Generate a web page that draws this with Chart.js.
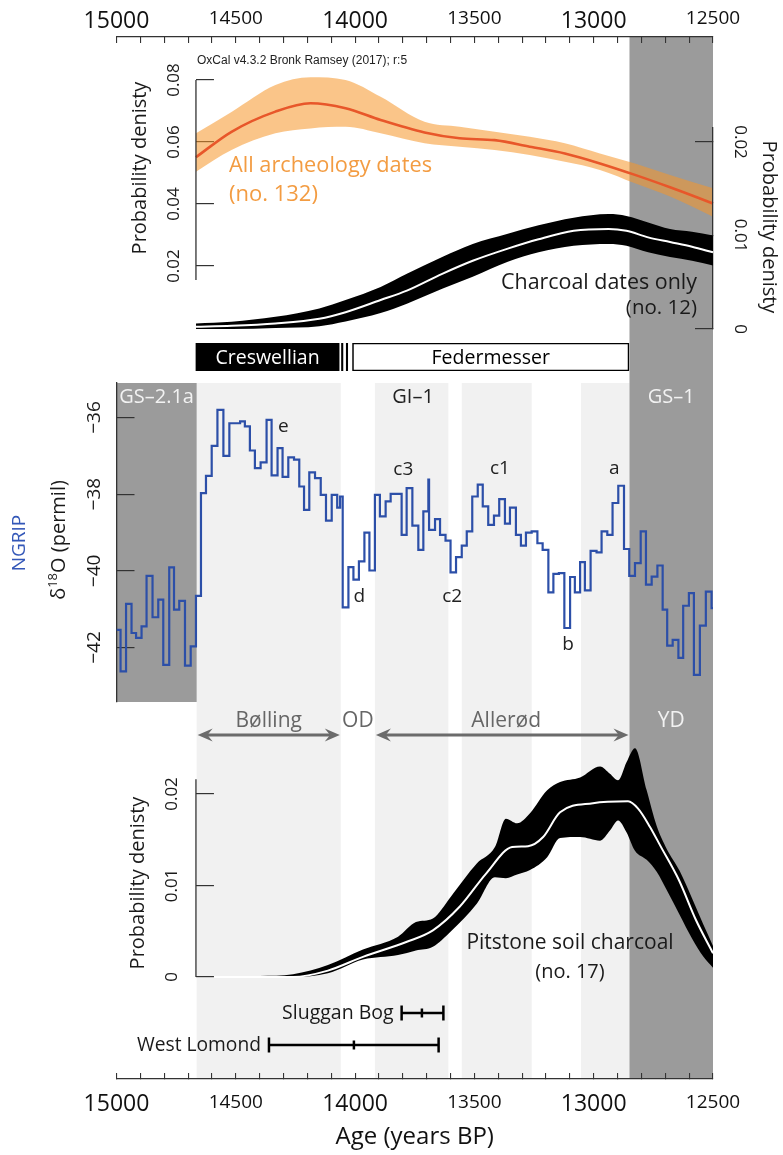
<!DOCTYPE html>
<html lang="en"><head><meta charset="utf-8"><title>Pitstone charcoal chronology</title>
<script src="https://cdn.jsdelivr.net/npm/chart.js@4.4.1/dist/chart.umd.min.js"></script>
<style>
html,body{margin:0;padding:0;background:#fff;width:783px;height:1155px;overflow:hidden}
#wrap{position:relative;width:783px;height:1155px}
#wrap canvas{position:absolute;left:0;top:0}
</style></head><body><div id="wrap">
<canvas id="cFrame" width="783" height="1155"></canvas>
<canvas id="cArch" width="783" height="1155"></canvas>
<canvas id="cChar" width="783" height="1155"></canvas>
<canvas id="cNgrip" width="783" height="1155"></canvas>
<canvas id="cPit" width="783" height="1155"></canvas>
<canvas id="cCult" width="783" height="1155"></canvas>
<canvas id="cSites" width="783" height="1155"></canvas>
</div>
<script>
// ================= DATA =================
const AXIS_MIN = 12500, AXIS_MAX = 15000;
const xTickYears = [15000,14900,14800,14700,14600,14500,14400,14300,14200,14100,14000,13900,13800,13700,13600,13500,13400,13300,13200,13100,13000,12900,12800,12700,12600,12500];
const xLabelYears = [15000,14500,14000,13500,13000,12500];
const PANEL_START = 14667;

// Greenland stages / climate periods (years BP)
const stageNames = ['GS–2.1a','GI–1','GS–1'];
const stageStart = [15000,14664,12850];
const stageEnd   = [14664,12850,12500];
const stadialStart = [15000,12850];
const stadialEnd   = [14664,12500];
const warmStart = [14664,13917,13553,13053];
const warmEnd   = [14060,13609,13260,12850];
const periodNames = ['Bølling','OD','Allerød','YD'];
const periodStart = [14664,14060,13917,12850];
const periodEnd   = [14060,13917,12850,12500];

// All archaeology dates (left axis)
const archTicks = [0.02,0.04,0.06,0.08];
const archYears = [14667,14518,14334,14187,14040,13893,13709,13562,13415,13268,13121,12974,12827,12680,12500];
const archMean  = [0.0551,0.0633,0.0698,0.0725,0.0709,0.0671,0.0631,0.0612,0.0606,0.0585,0.0563,0.0531,0.0494,0.0454,0.0402];
const archUpper = [0.0628,0.0697,0.0784,0.0809,0.0800,0.0746,0.0665,0.0649,0.0633,0.0617,0.0596,0.0563,0.0531,0.0494,0.0451];
const archLower = [0.0504,0.0574,0.0628,0.0644,0.0649,0.0628,0.0596,0.0585,0.0574,0.0558,0.0536,0.0510,0.0467,0.0424,0.0359];

// Charcoal dates only (right axis)
const charTicks = [0,0.01,0.02];
const charYears = [14667,14518,14334,14150,14040,13893,13783,13635,13507,13360,13231,13084,12937,12863,12772,12680,12588,12500];
const charMean  = [0.00025,0.00035,0.0006,0.0011,0.0018,0.0031,0.0041,0.0059,0.0073,0.0086,0.0096,0.0105,0.0107,0.0105,0.0098,0.0093,0.0088,0.0082];
const charUpper = [0.0006,0.00078,0.0013,0.0022,0.0031,0.0045,0.0059,0.0077,0.0091,0.0102,0.0111,0.0119,0.0123,0.0121,0.0114,0.0107,0.0104,0.0100];
const charLower = [0,0,0.0001,0.0003,0.0008,0.0017,0.0027,0.0043,0.0056,0.0072,0.0082,0.0089,0.0091,0.0089,0.0082,0.0077,0.0073,0.0068];

// Culture bar
const cultureNames = ['Creswellian','','','Federmesser'];
const cultureStart = [14667,14057,14037,14011];
const cultureEnd   = [14067,14051,14031,12852];

// NGRIP d18O (step record)
const ngripTicks = [-42,-40,-38,-36];
const ngripYears = [15000,14983,14960,14937,14918,14895,14874,14849,14825,14804,14779,14759,14737,14713,14689,14667,14646,14625,14601,14577,14552,14527,14482,14462,14441,14420,14396,14371,14350,14325,14304,14280,14256,14234,14214,14192,14168,14144,14122,14098,14075,14063,14052,14028,14007,13984,13961,13940,13917,13896,13872,13851,13805,13784,13760,13735,13714,13693,13690,13665,13644,13621,13600,13577,13553,13532,13509,13486,13465,13442,13418,13396,13372,13351,13326,13305,13284,13260,13236,13214,13190,13169,13146,13123,13099,13079,13057,13037,13013,12988,12967,12943,12921,12897,12873,12851,12827,12803,12781,12757,12733,12711,12692,12669,12645,12625,12601,12580,12555,12530,12506,12500];
const ngripD18O  = [-41.54,-42.62,-40.86,-41.62,-41.75,-41.45,-40.13,-41.21,-40.75,-42.45,-39.91,-41.01,-40.78,-42.47,-41.97,-40.65,-37.97,-37.52,-36.74,-35.80,-37.00,-36.15,-36.10,-36.23,-36.86,-37.32,-37.17,-36.06,-37.51,-36.80,-37.55,-37.04,-37.10,-37.80,-38.41,-37.43,-37.58,-38.02,-38.69,-38.02,-38.35,-38.06,-40.95,-39.90,-40.23,-39.75,-39.00,-39.99,-38.02,-38.58,-38.19,-37.99,-39.06,-37.84,-38.82,-39.45,-38.45,-37.62,-38.93,-38.65,-39.06,-39.21,-40.04,-39.64,-39.34,-38.97,-38.06,-37.75,-38.32,-38.80,-38.56,-38.13,-38.77,-38.35,-39.06,-39.34,-39.00,-38.97,-39.28,-39.45,-40.56,-40.08,-40.06,-41.49,-40.16,-40.56,-39.77,-40.51,-39.48,-39.52,-38.97,-39.06,-38.23,-37.78,-39.43,-40.13,-39.80,-38.97,-40.36,-40.15,-39.86,-41.01,-41.95,-41.80,-42.27,-40.91,-40.58,-42.71,-41.43,-40.54,-40.97,-40.97];
const eventNames  = ['e','d','c3','c2','c1','b','a'];
const eventYears  = [14301,13982,13798,13593,13393,13107,12914];
const eventLevels = [-36.23,-40.67,-37.35,-40.67,-37.32,-41.93,-37.32];

// Pitstone soil charcoal
const pitTicks = [0,0.01,0.02];
const pitYears = [14591,14400,14260,14114,13967,13820,13745,13674,13598,13490,13414,13368,13321,13267,13195,13141,13057,12973,12932,12898,12862,12827,12778,12736,12694,12640,12588,12540,12500];
const pitUpper = [0,0.0001,0.0003,0.0013,0.003,0.0044,0.006,0.0064,0.0088,0.0124,0.0142,0.0173,0.0168,0.0179,0.0204,0.0213,0.0218,0.023,0.0222,0.0215,0.0235,0.025,0.0204,0.0165,0.0140,0.0116,0.0086,0.0057,0.0034];
const pitLower = [0,0,0,0.0004,0.0019,0.0024,0.0029,0.0033,0.005,0.008,0.0109,0.0108,0.0112,0.0117,0.0131,0.0152,0.0153,0.0149,0.016,0.0171,0.0158,0.0138,0.0128,0.0115,0.0095,0.0068,0.0042,0.0022,0.0010];
const pitMeanYears = [14591,14260,14114,13967,13783,13674,13561,13451,13342,13275,13212,13141,13003,12856,12814,12764,12720,12643,12571,12500];
const pitMean      = [0,0,0.0007,0.0022,0.00385,0.0051,0.0077,0.0113,0.0142,0.0143,0.0153,0.018,0.019,0.0192,0.0184,0.0164,0.0143,0.0106,0.0062,0.0026];

// Tephra / site ages
const siteNames = ['Sluggan Bog','West Lomond'];
const siteOld   = [13805,14361];
const siteMid   = [13720,14005];
const siteYoung = [13630,13650];

// ================= LAYOUT & STYLE =================
const W = 783, H = 1155;
const PX_LEFT = 116.5, PX_RIGHT = 713;
const FRAME_TOP = 37, FRAME_BOTTOM = 1079;
const NGRIP_TOP = 383, NGRIP_BOTTOM = 702;
const LIGHT = '#f1f1f1', DARK = '#9b9b9b', INK = '#1a1a1a', AXIS = '#333';
const FONT = '"Open Sans", "Noto Sans", "DejaVu Sans", sans-serif';
const pxPerYear = (PX_RIGHT - PX_LEFT) / (AXIS_MAX - AXIS_MIN);
const yearToPx = yr => PX_LEFT + (AXIS_MAX - yr) * pxPerYear;
const fmtMinus = v => String(v).replace('-', '\u2212');

function drawText(ctx, s, x, y, o = {}) {
  ctx.save();
  ctx.font = `${o.weight || 'normal'} ${o.size || 18}px ${o.family || FONT}`;
  ctx.fillStyle = o.color || INK;
  ctx.textAlign = o.align || 'center';
  ctx.textBaseline = o.baseline || 'middle';
  ctx.translate(x, y);
  if (o.rot) ctx.rotate(o.rot * Math.PI / 180);
  if (o.maxWidth) ctx.fillText(s, 0, 0, o.maxWidth); else ctx.fillText(s, 0, 0);
  ctx.restore();
}
function tickLabels(ctx, scale, x, rot, size, fmt) {
  scale.ticks.forEach(t => drawText(ctx, fmt(t.value), x, scale.getPixelForValue(t.value), {rot, size}));
}
function axisLine(ctx, x, y1, y2) {
  ctx.save(); ctx.strokeStyle = AXIS; ctx.lineWidth = 1.3;
  ctx.beginPath(); ctx.moveTo(x, y1); ctx.lineTo(x, y2); ctx.stroke(); ctx.restore();
}
function arrow(ctx, x1, x2, y) {
  const L = 15, hw = 6.5;
  ctx.save(); ctx.strokeStyle = '#6b6b6b'; ctx.fillStyle = '#6b6b6b'; ctx.lineWidth = 3;
  ctx.beginPath(); ctx.moveTo(x1 + 8, y); ctx.lineTo(x2 - 8, y); ctx.stroke();
  ctx.beginPath(); ctx.moveTo(x1, y); ctx.lineTo(x1 + L, y - hw); ctx.lineTo(x1 + L * 0.65, y); ctx.lineTo(x1 + L, y + hw); ctx.closePath(); ctx.fill();
  ctx.beginPath(); ctx.moveTo(x2, y); ctx.lineTo(x2 - L, y - hw); ctx.lineTo(x2 - L * 0.65, y); ctx.lineTo(x2 - L, y + hw); ctx.closePath(); ctx.fill();
  ctx.restore();
}

const common = {
  responsive: false, animation: false, devicePixelRatio: 1, events: [],
  plugins: { legend: { display: false }, tooltip: { enabled: false } }
};
function hiddenX(xmax) { return { type: 'linear', min: AXIS_MIN, max: xmax, reverse: true, display: false }; }
function yAxis(position, min, max, ticks, border) {
  return {
    type: 'linear', position, min, max,
    afterBuildTicks: sc => { sc.ticks = ticks.map(v => ({ value: v })); },
    afterFit: sc => { sc.width = 0; },
    ticks: { display: false },
    grid: { drawOnChartArea: false, drawTicks: true, tickLength: -18, color: AXIS, lineWidth: 1.2 },
    border: { display: border, color: AXIS, width: 1.3 }
  };
}
function pad(left, top, bottom) { return { left, right: W - PX_RIGHT, top, bottom: H - bottom }; }
function pts(xs, ys) { return xs.map((x, i) => ({ x, y: ys[i] })); }
function timeAxis(position, height, padding, crossAlign) {
  return {
    type: 'linear', position, min: AXIS_MIN, max: AXIS_MAX, reverse: true,
    afterBuildTicks: sc => { sc.ticks = xTickYears.map(v => ({ value: v })); },
    afterFit: sc => { sc.height = height; },
    ticks: {
      autoSkip: false, maxRotation: 0, minRotation: 0, padding, crossAlign, color: '#111',
      callback: v => xLabelYears.includes(v) ? String(v) : '',
      font: c => ({ family: FONT, size: (c.tick && c.tick.value % 1000 === 0) ? 23 : 19 })
    },
    grid: { drawOnChartArea: false, drawTicks: true, tickLength: -6, color: AXIS, lineWidth: 1.1 },
    border: { display: true, color: AXIS, width: 1.3 }
  };
}

// ================= FRAME (axes, climate bands, labels) =================
new Chart(document.getElementById('cFrame'), {
  type: 'line',
  data: { datasets: [] },
  options: Object.assign({}, common, {
    layout: { padding: { left: PX_LEFT, right: W - PX_RIGHT, top: 0, bottom: 0 } },
    scales: {
      x: timeAxis('top', FRAME_TOP, 8, 'far'),
      x2: Object.assign(timeAxis('bottom', H - FRAME_BOTTOM, 18, 'near'), {
        title: { display: true, text: 'Age (years BP)', color: '#111', font: { family: FONT, size: 24 }, padding: { top: 0, bottom: 3 } }
      }),
      y: { display: false, min: 0, max: 1 }
    }
  }),
  plugins: [{
    id: 'bands',
    beforeDraw(chart) {
      const { ctx, scales: { x }, chartArea } = chart;
      ctx.save();
      ctx.fillStyle = LIGHT;
      warmStart.forEach((s, i) => {
        const a = x.getPixelForValue(s), b = x.getPixelForValue(warmEnd[i]);
        ctx.fillRect(a, NGRIP_TOP, b - a, chartArea.bottom - NGRIP_TOP);
      });
      ctx.fillStyle = DARK;
      let a = x.getPixelForValue(stadialStart[0]), b = x.getPixelForValue(stadialEnd[0]);
      ctx.fillRect(a, NGRIP_TOP, b - a, NGRIP_BOTTOM - NGRIP_TOP);
      a = x.getPixelForValue(stadialStart[1]); b = x.getPixelForValue(stadialEnd[1]);
      ctx.fillRect(a, chartArea.top, b - a, chartArea.bottom - chartArea.top);
      ctx.restore();
    },
    afterDraw(chart) {
      const { ctx, scales: { x } } = chart;
      const stageColor = ['#f2f2f2', '#222', '#f2f2f2'];
      stageNames.forEach((n, i) => {
        const cx = (x.getPixelForValue(stageStart[i]) + x.getPixelForValue(stageEnd[i])) / 2;
        drawText(ctx, n, cx, 397, { size: 20, color: stageColor[i] });
      });
      const periodColor = ['#666', '#666', '#666', '#f2f2f2'];
      const periodArrow = [true, false, true, false];
      periodNames.forEach((n, i) => {
        const a = x.getPixelForValue(periodStart[i]), b = x.getPixelForValue(periodEnd[i]);
        drawText(ctx, n, (a + b) / 2 + (i === 2 ? 4 : 0), 721, { size: 21, color: periodColor[i] });
        if (periodArrow[i]) arrow(ctx, a + 1, b - 1, 735);
      });
    }
  }]
});

// ================= ALL ARCHAEOLOGY DATES =================
new Chart(document.getElementById('cArch'), {
  type: 'line',
  data: { datasets: [
    { label: 'All archeology dates (mean)', data: pts(archYears, archMean), borderColor: '#e8572a', borderWidth: 2.6, pointRadius: 0, cubicInterpolationMode: 'monotone', fill: false, clip: false },
    { label: 'upper', data: pts(archYears, archUpper), borderWidth: 0, pointRadius: 0, cubicInterpolationMode: 'monotone', fill: '+1', backgroundColor: 'rgba(245,150,40,0.55)', clip: false },
    { label: 'lower', data: pts(archYears, archLower), borderWidth: 0, pointRadius: 0, cubicInterpolationMode: 'monotone', fill: false, clip: false }
  ] },
  options: Object.assign({}, common, {
    layout: { padding: pad(yearToPx(PANEL_START), 74, 280) },
    scales: { x: hiddenX(PANEL_START), y: yAxis('left', 0.0155, 0.08194, archTicks, false) }
  }),
  plugins: [{
    id: 'archText',
    afterDraw(chart) {
      const { ctx, chartArea } = chart, y = chart.scales.y;
      axisLine(ctx, chartArea.left, y.getPixelForValue(0.08), chartArea.bottom);
      tickLabels(ctx, y, 174, -90, 17, v => v.toFixed(2));
      drawText(ctx, 'Probability denisty', 140, 168, { rot: -90, size: 20, maxWidth: 178 });
      drawText(ctx, 'OxCal v4.3.2 Bronk Ramsey (2017); r:5', 197, 61, { align: 'left', size: 12, family: '"Liberation Sans", Arial, sans-serif', maxWidth: 229, color: '#222' });
      drawText(ctx, 'All archeology dates', 229, 166, { align: 'left', size: 22, color: '#f39c42', maxWidth: 203 });
      drawText(ctx, '(no. 132)', 229, 195, { align: 'left', size: 22, color: '#f39c42' });
    }
  }]
});

// ================= CHARCOAL DATES ONLY =================
new Chart(document.getElementById('cChar'), {
  type: 'line',
  data: { datasets: [
    { label: 'Charcoal dates only (mean)', data: pts(charYears, charMean), borderColor: '#fff', borderWidth: 2, pointRadius: 0, cubicInterpolationMode: 'monotone', fill: false, clip: false },
    { label: 'upper', data: pts(charYears, charUpper), borderWidth: 0, pointRadius: 0, cubicInterpolationMode: 'monotone', fill: '+1', backgroundColor: '#000', clip: false },
    { label: 'lower', data: pts(charYears, charLower), borderWidth: 0, pointRadius: 0, cubicInterpolationMode: 'monotone', fill: false, clip: false }
  ] },
  options: Object.assign({}, common, {
    layout: { padding: pad(yearToPx(PANEL_START), 128, 329) },
    scales: { x: hiddenX(PANEL_START), y: yAxis('right', 0, 0.0215, charTicks, true) }
  }),
  plugins: [{
    id: 'charText',
    afterDraw(chart) {
      const { ctx } = chart, y = chart.scales.y;
      tickLabels(ctx, y, 740, 90, 17, v => v === 0 ? '0' : v.toFixed(2));
      drawText(ctx, 'Probability denisty', 769, 227, { rot: 90, size: 20, maxWidth: 178 });
      drawText(ctx, 'Charcoal dates only', 501, 283, { align: 'left', size: 21.5, maxWidth: 196 });
      drawText(ctx, '(no. 12)', 697, 308, { align: 'right', size: 20.5 });
    }
  }]
});

// ================= NGRIP =================
new Chart(document.getElementById('cNgrip'), {
  type: 'line',
  data: { datasets: [
    { label: 'NGRIP d18O', data: pts(ngripYears, ngripD18O), stepped: true, borderColor: '#2c4fa8', borderWidth: 2.2, pointRadius: 0, fill: false }
  ] },
  options: Object.assign({}, common, {
    layout: { padding: pad(PX_LEFT, NGRIP_TOP, NGRIP_BOTTOM) },
    scales: { x: hiddenX(AXIS_MAX), y: yAxis('left', -43.42, -35.1, ngripTicks, true) }
  }),
  plugins: [{
    id: 'ngripText',
    afterDraw(chart) {
      const { ctx } = chart, x = chart.scales.x, y = chart.scales.y;
      tickLabels(ctx, y, 95, -90, 19, fmtMinus);
      drawText(ctx, 'NGRIP', 20, 543, { rot: -90, size: 19, color: '#3357b8' });
      // delta 18 O title
      ctx.save(); ctx.translate(58, 540); ctx.rotate(-Math.PI / 2);
      ctx.fillStyle = INK; ctx.textAlign = 'left'; ctx.textBaseline = 'alphabetic';
      const big = `20px ${FONT}`, small = `13px ${FONT}`;
      ctx.font = big; const w1 = ctx.measureText('δ').width, w3 = ctx.measureText('O (permil)').width;
      ctx.font = small; const w2 = ctx.measureText('18').width;
      let cx = -(w1 + w2 + w3) / 2; const base = 7;
      ctx.font = big; ctx.fillText('δ', cx, base); cx += w1;
      ctx.font = small; ctx.fillText('18', cx, base - 8); cx += w2;
      ctx.font = big; ctx.fillText('O (permil)', cx, base);
      ctx.restore();
      eventNames.forEach((n, i) => drawText(ctx, n, x.getPixelForValue(eventYears[i]), y.getPixelForValue(eventLevels[i]), { size: 19, color: '#222' }));
    }
  }]
});

// ================= PITSTONE SOIL CHARCOAL =================
new Chart(document.getElementById('cPit'), {
  type: 'line',
  data: { datasets: [
    { label: 'Pitstone soil charcoal (mean)', data: pts(pitMeanYears, pitMean), borderColor: '#fff', borderWidth: 2, pointRadius: 0, cubicInterpolationMode: 'monotone', fill: false, clip: false },
    { label: 'upper', data: pts(pitYears, pitUpper), borderWidth: 0, pointRadius: 0, cubicInterpolationMode: 'monotone', fill: '+1', backgroundColor: '#000', clip: false },
    { label: 'lower', data: pts(pitYears, pitLower), borderWidth: 0, pointRadius: 0, cubicInterpolationMode: 'monotone', fill: false, clip: false }
  ] },
  options: Object.assign({}, common, {
    layout: { padding: pad(yearToPx(PANEL_START), 740, 977) },
    scales: { x: hiddenX(PANEL_START), y: yAxis('left', 0, 0.0259, pitTicks, false) }
  }),
  plugins: [{
    id: 'pitText',
    afterDraw(chart) {
      const { ctx, chartArea } = chart, y = chart.scales.y;
      axisLine(ctx, chartArea.left, y.getPixelForValue(0.0216), chartArea.bottom);
      tickLabels(ctx, y, 172, -90, 17, v => v === 0 ? '0' : v.toFixed(2));
      drawText(ctx, 'Probability denisty', 138, 883, { rot: -90, size: 20, maxWidth: 180 });
      drawText(ctx, 'Pitstone soil charcoal', 570, 943, { size: 21, maxWidth: 209 });
      drawText(ctx, '(no. 17)', 570, 972, { size: 20 });
    }
  }]
});

// ================= CULTURE BAR =================
const cultureFill = ['#000', '#000', '#000', '#fff'];
const cultureText = ['#fff', '#000', '#000', '#000'];
new Chart(document.getElementById('cCult'), {
  type: 'bar',
  data: { labels: ['Culture'], datasets: cultureNames.map((n, i) => ({
    label: n, data: [[cultureStart[i], cultureEnd[i]]], backgroundColor: cultureFill[i], borderColor: '#000',
    borderWidth: i === 3 ? 1.6 : 0, borderSkipped: false, grouped: false, barPercentage: 1, categoryPercentage: 1
  })) },
  options: Object.assign({}, common, {
    indexAxis: 'y',
    layout: { padding: pad(PX_LEFT, 343, 371) },
    scales: { x: hiddenX(AXIS_MAX), y: { display: false } }
  }),
  plugins: [{
    id: 'cultText',
    afterDatasetsDraw(chart) {
      chart.data.datasets.forEach((ds, i) => {
        if (!ds.label) return;
        const el = chart.getDatasetMeta(i).data[0];
        drawText(chart.ctx, ds.label, (el.x + el.base) / 2, el.y + 1, { size: 19.5, color: cultureText[i], maxWidth: 120 });
      });
    }
  }]
});

// ================= SITE AGE RANGES =================
new Chart(document.getElementById('cSites'), {
  type: 'line',
  data: { datasets: siteNames.map((n, i) => ({
    label: n, data: [{ x: siteOld[i], y: i + 1 }, { x: siteMid[i], y: i + 1 }, { x: siteYoung[i], y: i + 1 }],
    borderColor: '#000', borderWidth: 2.5, showLine: true, fill: false,
    pointStyle: 'line', rotation: 90, pointRadius: [7.5, 4.5, 7.5], pointBorderWidth: 2.5, pointBorderColor: '#000', clip: false
  })) },
  options: Object.assign({}, common, {
    layout: { padding: pad(PX_LEFT, 981, 1077) },
    scales: { x: hiddenX(AXIS_MAX), y: { type: 'linear', min: 0, max: 3, reverse: true, display: false } }
  }),
  plugins: [{
    id: 'siteText',
    afterDatasetsDraw(chart) {
      chart.data.datasets.forEach((ds, i) => {
        const p = chart.getDatasetMeta(i).data[0];
        drawText(chart.ctx, ds.label, p.x - 8, p.y, { align: 'right', size: 19.5, maxWidth: 124 });
      });
    }
  }]
});
</script></body></html>
